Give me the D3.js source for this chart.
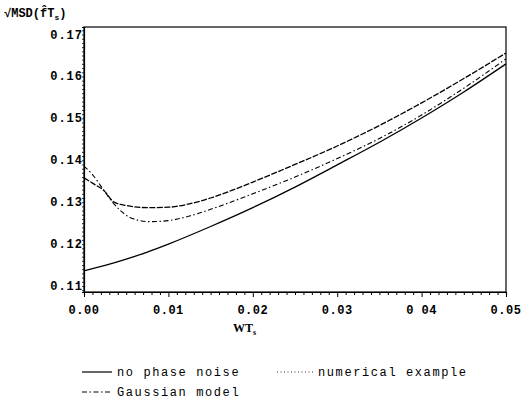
<!DOCTYPE html>
<html><head><meta charset="utf-8">
<script src="https://cdn.jsdelivr.net/npm/d3@7"></script>
<style>body{margin:0;background:#fff}svg{display:block}</style>
</head><body><svg id="c" width="521" height="402"></svg>
<script>
const xTicks = [0, 0.01, 0.02, 0.03, 0.04, 0.05];
const xTickLabels = ["0.00", "0.01", "0.02", "0.03", "0 04", "0.05"];
const yTicks = [0.11, 0.12, 0.13, 0.14, 0.15, 0.16, 0.17];
const yTickLabels = ["0.11", "0.12", "0.13", "0.14", "0.15", "0.16", "0.17"];

const xNoNoise = [0, 0.0025, 0.005, 0.0075, 0.01, 0.015, 0.02, 0.025, 0.03, 0.035, 0.04, 0.045, 0.05];
const noPhaseNoise = [0.1136, 0.1149, 0.1164, 0.1181, 0.1200, 0.1242, 0.1287, 0.1336, 0.1389, 0.1443, 0.1501, 0.1563, 0.1630];

const xNumerical = [0, 0.0012, 0.0024, 0.0035, 0.005, 0.0075, 0.01, 0.0125, 0.015, 0.0175, 0.02, 0.025, 0.03, 0.035, 0.04, 0.045, 0.05];
const numerical = [0.1358, 0.1343, 0.1327, 0.1301, 0.1292, 0.1287, 0.1288, 0.1296, 0.1310, 0.1328, 0.1348, 0.1390, 0.1434, 0.1483, 0.1537, 0.1595, 0.1656];

const xGaussian = [0, 0.001, 0.0024, 0.0035, 0.0045, 0.0055, 0.0078, 0.01, 0.0125, 0.015, 0.0175, 0.02, 0.025, 0.03, 0.035, 0.04, 0.045, 0.05];
const gaussian = [0.1386, 0.1366, 0.1327, 0.1297, 0.1277, 0.1263, 0.12535, 0.1256, 0.1267, 0.1283, 0.1301, 0.1320, 0.1360, 0.1404, 0.1452, 0.1508, 0.1572, 0.1642];

const svg = d3.select("#c");
const L = 84, R = 506, T = 27, B = 292;
const x = d3.scaleLinear().domain([0, 0.05]).range([L, R]);
const y = d3.scaleLinear().domain([0.10857, 0.1718]).range([B, T]);

const mono = "'Liberation Mono', 'DejaVu Sans Mono', monospace";

// frame
svg.append("rect").attr("x", L).attr("y", T).attr("width", R - L).attr("height", B - T)
  .attr("fill", "none").attr("stroke", "#000").attr("stroke-width", 1.2);

// x axis ticks
const xAxis = d3.axisBottom(x).tickValues(d3.range(0, 51).map(i => i / 1000))
  .tickSize(3).tickFormat("");
const gx = svg.append("g").attr("transform", `translate(0,${B})`).call(xAxis);
gx.select(".domain").attr("stroke", "#000").attr("stroke-width", 1.2);
gx.selectAll(".tick line").attr("stroke", "#000")
  .attr("y2", d => (Math.round(d * 1000) % 10 === 0 ? 5 : 3));
svg.selectAll(".xl").data(xTicks).enter().append("text")
  .attr("x", d => x(d)).attr("y", 314).attr("text-anchor", "middle")
  .attr("font-family", mono).attr("font-size", 12).attr("font-weight", "bold")
  .attr("letter-spacing", 0.5)
  .text((d, i) => xTickLabels[i]);

// y axis ticks
const yAxis = d3.axisLeft(y).tickValues(d3.range(109, 172).map(i => i / 1000))
  .tickSize(2).tickFormat("");
const gy = svg.append("g").attr("transform", `translate(${L},0)`).call(yAxis);
gy.select(".domain").attr("stroke", "#000").attr("stroke-width", 1.2);
gy.selectAll(".tick line").attr("stroke", "#000").attr("stroke-width", 0.8);
svg.selectAll(".yl").data(yTicks).enter().append("text")
  .attr("x", L - 1).attr("y", d => y(d) + 4).attr("text-anchor", "end")
  .attr("font-family", mono).attr("font-size", 12).attr("font-weight", "bold")
  .attr("letter-spacing", 1)
  .text((d, i) => yTickLabels[i]);

// curves
const line = (xs) => d3.line().x((d, i) => x(xs[i])).y(d => y(d)).curve(d3.curveMonotoneX);
const g = svg.append("g").attr("fill", "none").attr("stroke", "#000");
g.append("path").attr("d", line(xNoNoise)(noPhaseNoise)).attr("stroke-width", 1.3);
g.append("path").attr("d", line(xNumerical)(numerical)).attr("stroke-width", 1.3)
  .attr("stroke-dasharray", "6,1.5");
g.append("path").attr("d", line(xGaussian)(gaussian)).attr("stroke-width", 1.1)
  .attr("stroke-dasharray", "5,2.5,1.5,2.5");

// axis titles
const yt = svg.append("text").attr("x", 4).attr("y", 17)
  .attr("font-family", mono).attr("font-size", 12).attr("font-weight", "bold");
yt.append("tspan").text("√MSD(");
yt.append("tspan").text("f\u0302");
yt.append("tspan").text("T");
yt.append("tspan").attr("font-size", 8).attr("dy", 3).text("s");
yt.append("tspan").attr("dy", -3).text(")");

const xt = svg.append("text").attr("x", 233).attr("y", 332)
  .attr("font-family", "'Liberation Serif', serif").attr("font-size", 12).attr("font-weight", "bold");
xt.append("tspan").text("WT");
xt.append("tspan").attr("font-size", 8).attr("dy", 3).text("s");

// legend
const legendNames = ["no phase noise", "numerical example", "Gaussian model"];
const legendDash = [null, "1,2.5", "5,2.5,1.5,2.5"];
const legendPos = [[82, 372], [277, 372], [82, 392]];
legendNames.forEach((name, i) => {
  const [lx, ly] = legendPos[i];
  svg.append("line").attr("x1", lx).attr("x2", lx + (i === 1 ? 37 : 30)).attr("y1", ly).attr("y2", ly)
    .attr("stroke", "#000").attr("stroke-width", i === 1 ? 0.8 : 1.2)
    .attr("stroke-dasharray", legendDash[i]);
  svg.append("text").attr("x", lx + (i === 1 ? 41 : 35)).attr("y", ly + 3.5)
    .attr("font-family", mono).attr("font-size", 12).attr("letter-spacing", 1.6)
    .text(name);
});
</script></body></html>
